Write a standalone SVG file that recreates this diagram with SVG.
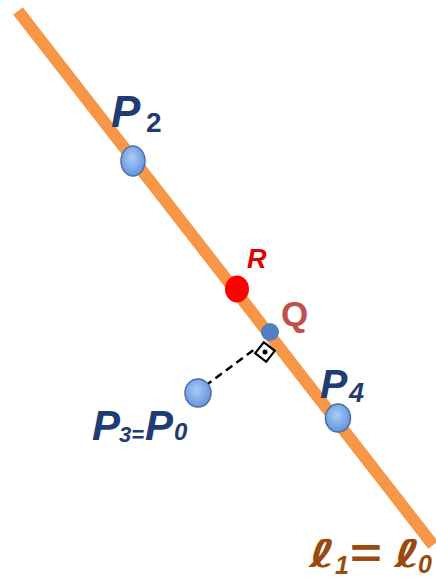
<svg xmlns="http://www.w3.org/2000/svg" width="436" height="578" viewBox="0 0 436 578">
  <defs>
    <radialGradient id="pt" cx="45%" cy="40%" r="65%">
      <stop offset="0" stop-color="#A9CCF7"/>
      <stop offset="1" stop-color="#5F8FDA"/>
    </radialGradient>
    <style>
      .pt { fill: url(#pt); stroke: #4A6FA8; stroke-width: 1.5; }
      .lbl { font-family: "Liberation Sans", Arial, sans-serif; font-weight: bold; font-style: italic; }
      .up { font-style: normal; }
      .pl { fill: #1F3C73; }
      .ell { fill: #9A4A0E; }
      .scr { font-family: "DejaVu Sans", sans-serif; font-weight: bold; font-style: italic; }
    </style>
  </defs>
  <rect width="436" height="578" fill="#FFFFFF"/>
  <g id="connectors">
    <line id="line-l1" x1="18" y1="11" x2="433" y2="545" stroke="#F79646" stroke-width="12"/>
    <line id="perp" x1="205" y1="386" x2="255" y2="349" stroke="#000" stroke-width="2.5" stroke-dasharray="8 5"/>
  </g>
  <g id="right-angle">
    <rect x="-7" y="-7" width="14" height="14" fill="#FFFFFF" stroke="#000" stroke-width="2.2" transform="translate(265 352) rotate(38)"/>
    <circle cx="265" cy="352" r="2.5" fill="#000"/>
  </g>
  <g id="P2">
    <ellipse class="pt" cx="133" cy="161" rx="12" ry="15"/>
    <text class="lbl pl" x="111" y="127" font-size="44">P</text>
    <text class="lbl pl up" x="146" y="132" font-size="28">2</text>
  </g>
  <g id="R">
    <ellipse cx="237" cy="289" rx="12" ry="13.5" fill="#FF0000"/>
    <text class="lbl" x="247" y="268" font-size="27" fill="#E00000">R</text>
  </g>
  <g id="Q">
    <circle cx="270" cy="332" r="9" fill="#4F7FC0"/>
    <text class="lbl up" x="281" y="326" font-size="35" fill="#C0504D">Q</text>
  </g>
  <g id="P3">
    <ellipse class="pt" cx="198" cy="393" rx="13" ry="14"/>
    <text class="lbl pl" x="92" y="440" font-size="42">P</text>
    <text class="lbl pl" x="119" y="442" font-size="22">3=</text>
    <text class="lbl pl" x="145" y="440" font-size="42">P</text>
    <text class="lbl pl" x="174" y="440" font-size="24">0</text>
  </g>
  <g id="P4">
    <ellipse class="pt" cx="338" cy="418" rx="12.5" ry="14"/>
    <text class="lbl pl" x="320" y="398" font-size="41">P</text>
    <text class="lbl pl" x="349" y="402" font-size="27">4</text>
  </g>
  <g id="l-label">
    <text class="scr ell" font-size="38" transform="translate(309 567) scale(1.5 1)">ℓ</text>
    <text class="lbl ell" x="335" y="574" font-size="25">1</text>
    <text class="lbl ell up" font-size="42" transform="translate(350 568) scale(1.3 1)">=</text>
    <text class="scr ell" font-size="38" transform="translate(394 567) scale(1.5 1)">ℓ</text>
    <text class="lbl ell" x="418" y="573" font-size="25">0</text>
  </g>
</svg>
